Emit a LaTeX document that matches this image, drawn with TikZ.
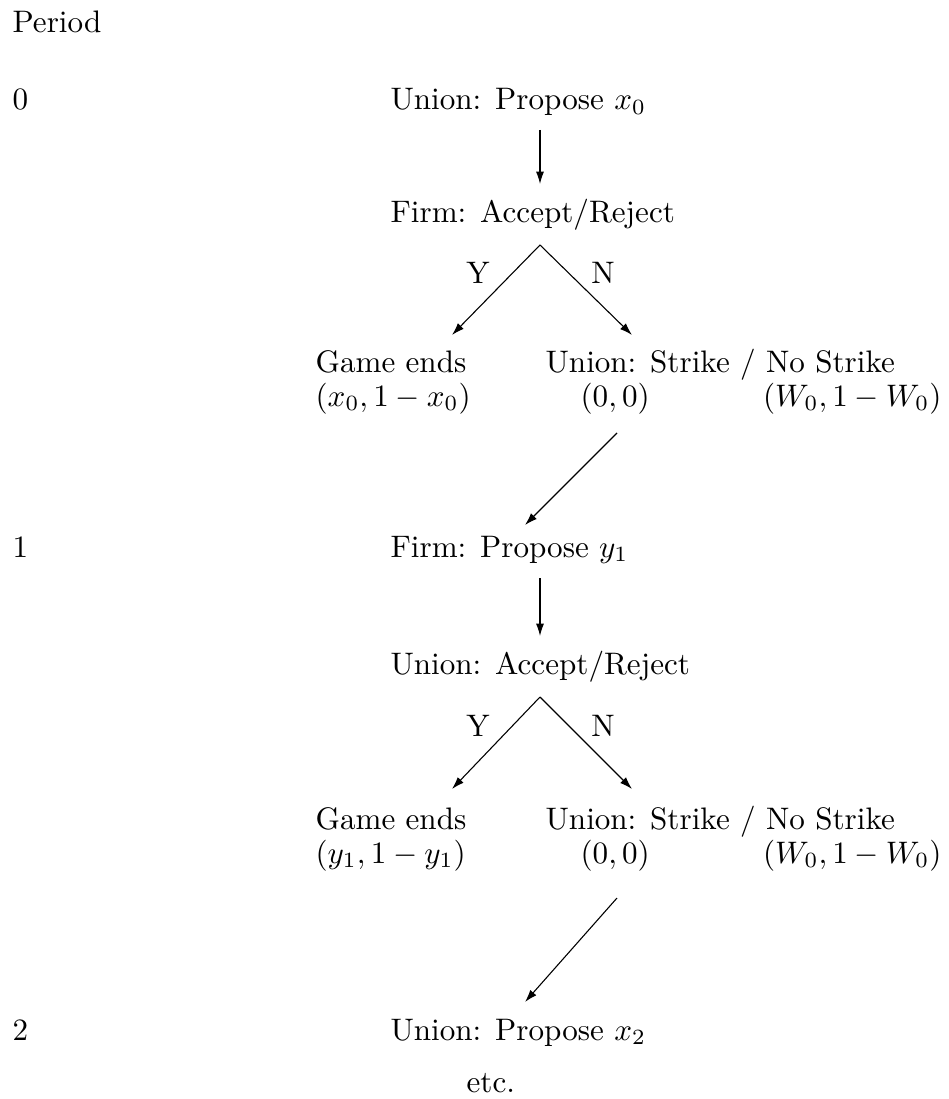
\documentclass[tikz,border=0pt]{standalone}
\usepackage{amsmath}
\usepackage{tikz}
\usetikzlibrary{arrows.meta}

\tikzset{
  lbl/.style={anchor=base west, inner sep=0pt},
  arr/.style={-{Latex[length=4pt,width=2.6pt]}, line width=0.35pt}
}

\begin{document}
\begin{tikzpicture}[x=0.3215pt,y=-0.3215pt]
  \useasboundingbox (0,0) rectangle (948,1099);

  \node[lbl] (period) at (12,33) {Period};

  % period 0
  \node[lbl] (t0) at (12,110) {0};
  \node[lbl] (u0) at (390,110) {Union: Propose $x_0$};
  \node[lbl] (f0) at (390,222) {Firm: Accept/Reject};
  \coordinate (a0) at (540,130);
  \coordinate (b0) at (540,184);
  \draw[arr] (a0) -- (b0);

  \coordinate (top0) at (540,245);
  \coordinate (yes0) at (452,335);
  \coordinate (no0) at (632,335);
  \draw[arr] (top0) -- (yes0);
  \draw[arr] (top0) -- (no0);
  \node (y0) at (478,273) {Y};
  \node (n0) at (603,273) {N};

  \node[lbl] (ge0) at (315,372) {Game ends};
  \node[lbl] (pay0) at (315,406) {$(x_0,1-x_0)$};
  \node[lbl] (us0) at (545,372) {Union: Strike / No Strike};
  \node[lbl] (zz0) at (580,406) {$(0,0)$};
  \node[lbl, anchor=base east] (w0) at (942,406) {$(W_0,1-W_0)$};
  \coordinate (c0) at (617,433);
  \coordinate (d0) at (525,525);
  \draw[arr] (c0) -- (d0);

  % period 1
  \node[lbl] (t1) at (12,557) {1};
  \node[lbl] (f1) at (390,557) {Firm: Propose $y_1$};
  \coordinate (a1) at (540,578);
  \coordinate (b1) at (540,636);
  \draw[arr] (a1) -- (b1);
  \node[lbl] (u1) at (390,674) {Union: Accept/Reject};

  \coordinate (top1) at (540,697);
  \coordinate (yes1) at (452,789);
  \coordinate (no1) at (632,789);
  \draw[arr] (top1) -- (yes1);
  \draw[arr] (top1) -- (no1);
  \node (y1) at (478,726) {Y};
  \node (n1) at (603,726) {N};

  \node[lbl] (ge1) at (315,829) {Game ends};
  \node[lbl] (pay1) at (315,863) {$(y_1,1-y_1)$};
  \node[lbl] (us1) at (545,829) {Union: Strike / No Strike};
  \node[lbl] (zz1) at (580,863) {$(0,0)$};
  \node[lbl, anchor=base east] (w1) at (942,863) {$(W_0,1-W_0)$};
  \coordinate (c1) at (617,898);
  \coordinate (d1) at (525,1002);
  \draw[arr] (c1) -- (d1);

  % period 2
  \node[lbl] (t2) at (12,1040) {2};
  \node[lbl] (u2) at (390,1040) {Union: Propose $x_2$};
  \node[lbl] (etc) at (466,1092) {etc.};
\end{tikzpicture}
\end{document}
